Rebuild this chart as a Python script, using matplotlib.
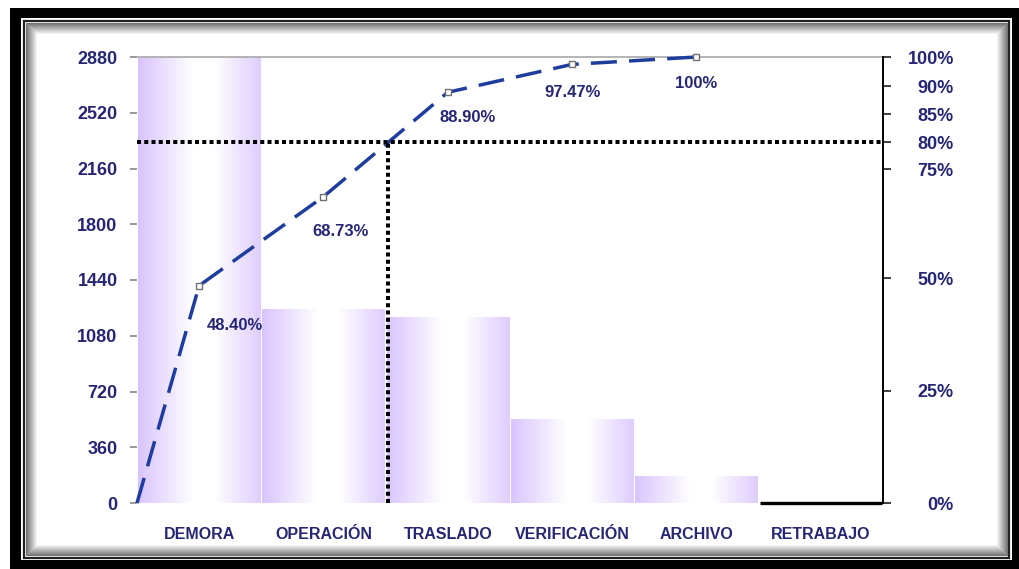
import numpy as np
import matplotlib
matplotlib.use('Agg')
import matplotlib.pyplot as plt
from matplotlib.patches import Rectangle

# ---------------- data ----------------
categories = ['DEMORA', 'OPERACIÓN', 'TRASLADO', 'VERIFICACIÓN', 'ARCHIVO', 'RETRABAJO']
frequencies = [2960, 1250, 1197, 537, 168, 0]
cumulative_pct = [48.40, 68.73, 88.90, 97.47, 100.0]
cumulative_labels = ['48.40%', '68.73%', '88.90%', '97.47%', '100%']
left_ticks = [0, 360, 720, 1080, 1440, 1800, 2160, 2520, 2880]
right_ticks = [0, 25, 50, 75, 80, 85, 90, 100]
right_tick_labels = ['0%', '25%', '50%', '75%', '80%', '85%', '90%', '100%']
threshold_pct = 80

# the right axis of the original is not linear: percent -> left-axis units
scale_pct = [0, 25, 50, 75, 80, 85, 90, 100]
scale_units = [0, 725, 1450, 2155, 2330, 2511, 2692, 2880]

# ---------------- style ----------------
plt.rcParams['font.family'] = ['Liberation Sans', 'DejaVu Sans']
plt.rcParams['font.weight'] = 'bold'
NAVY = '#262673'
LINE_BLUE = '#1f3d9c'
PURPLE = np.array([0.85, 0.77, 0.995])

W, H = 1020, 569
fig = plt.figure(figsize=(W / 100, H / 100), dpi=100)


def frame_rect(x0, y0, x1, y1, **kw):
    return Rectangle((x0 / W, 1 - y1 / H), (x1 - x0) / W, (y1 - y0) / H,
                     transform=fig.transFigure, zorder=-10, **kw)


# picture frame
fig.add_artist(frame_rect(10, 8, 1022, 571, facecolor='black', edgecolor='none'))
fig.add_artist(frame_rect(21, 18, 1012, 560, facecolor='white', edgecolor='none'))
fig.add_artist(frame_rect(23.5, 20.5, 1009.5, 557.5, facecolor='none',
                          edgecolor='#202020', lw=1.6))
for k in range(12):
    g = min(0.45 + k * 0.05, 1.0)
    fig.add_artist(frame_rect(26 + k, 23 + k, 1007 - k, 555 - k,
                              facecolor='none', edgecolor=str(g), lw=0.8))

ax = fig.add_axes([137 / W, 1 - 503 / H, 746 / W, 446 / H])
ax.set_facecolor('white')
x = np.arange(len(categories))

bars = ax.bar(x, frequencies, width=0.985, color='none', edgecolor='none', zorder=3)

t = np.linspace(0, 1, 256)
w = np.interp(t, [0, 0.45, 0.62, 1], [1.0, 0.0, 0.0, 0.85])
grad = 1 - (1 - PURPLE)[None, :] * w[:, None]
grad = grad[None, :, :]
for b in bars:
    x0, bw, h = b.get_x(), b.get_width(), b.get_height()
    if h <= 0:
        ax.hlines(0, x0, x0 + bw, color='black', lw=2.4, zorder=4, clip_on=False)
        continue
    ax.imshow(grad, extent=(x0, x0 + bw, 0, h), aspect='auto',
              zorder=2, interpolation='bilinear')

ax.set_xlim(-0.5, len(categories) - 0.5)
ax.set_ylim(0, left_ticks[-1])
ax.set_yticks(left_ticks)
ax.tick_params(axis='y', length=5, width=1.3, color='#909090', pad=9,
               labelsize=13, labelcolor=NAVY)
ax.set_xticks(x, categories)
ax.tick_params(axis='x', length=0, pad=17, labelsize=11.5, labelcolor=NAVY)
for s in ['left', 'bottom', 'right']:
    ax.spines[s].set_visible(False)
ax.spines['top'].set_color('#a8a8a8')
ax.spines['top'].set_linewidth(1.2)


def fwd(p):
    return np.interp(p, scale_pct, scale_units)


def inv(u):
    return np.interp(u, scale_units, scale_pct)


ax2 = ax.twinx()
ax2.set_yscale('function', functions=(fwd, inv))
ax2.set_ylim(0, 100)
ax2.set_yticks(right_ticks, right_tick_labels)
ax2.tick_params(axis='y', length=6, width=1.3, color='#303030', pad=45,
                labelsize=13, labelcolor=NAVY)
plt.setp(ax2.get_yticklabels(), ha='right')
for s in ['left', 'bottom', 'top']:
    ax2.spines[s].set_visible(False)
ax2.spines['right'].set_color('black')
ax2.spines['right'].set_linewidth(1.4)

# cumulative curve starts at the origin (left edge)
xs = np.concatenate([[-0.5], x[:len(cumulative_pct)]])
ys = np.concatenate([[0], cumulative_pct])
ax2.plot(xs, ys, color=LINE_BLUE, lw=2.5, ls=(0, (7.5, 3.5)), zorder=4, clip_on=False)
ax2.plot(x[:len(cumulative_pct)], cumulative_pct, 's', ms=5, mfc='white',
         mec='#707070', mew=1, zorder=5, clip_on=False)

# 80% crossing
u = fwd(ys)
target = fwd(threshold_pct)
i = int(np.searchsorted(u, target))
x_cross = xs[i - 1] + (target - u[i - 1]) / (u[i] - u[i - 1]) * (xs[i] - xs[i - 1])
dot = dict(color='black', lw=2.9, ls=(0, (1, 0.8)), zorder=6)
ax2.axhline(threshold_pct, **dot)
ax2.plot([x_cross, x_cross], [0, threshold_pct], **dot)

label_offsets = [(26, -29), (12, -25), (14, -18), (0, -20), (0, -19)]
for xi, yi, lbl, off in zip(x, cumulative_pct, cumulative_labels, label_offsets):
    ax2.annotate(lbl, (xi, yi), xytext=off, textcoords='offset points',
                 ha='center', va='center', fontsize=12, color=NAVY,
                 annotation_clip=False, zorder=7)

fig.savefig('out.png', dpi=100)
